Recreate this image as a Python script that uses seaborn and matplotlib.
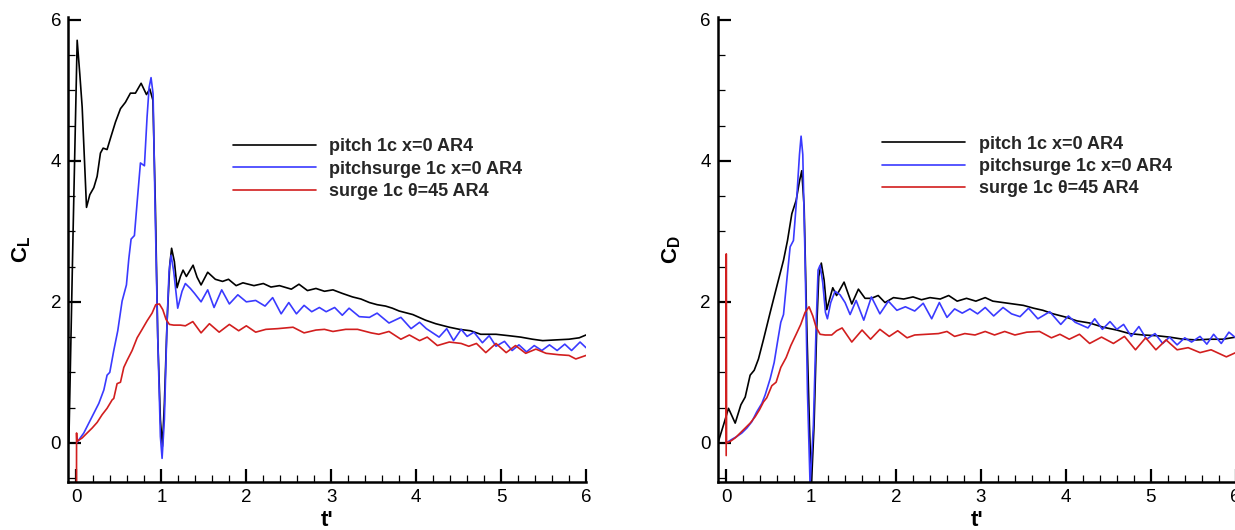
import numpy as np
import pandas as pd
import matplotlib
matplotlib.use("Agg")
import matplotlib.pyplot as plt
from matplotlib.ticker import MultipleLocator
import seaborn as sns

# ---- lift coefficient C_L versus t' ----
t_cl_pitch = [-0.09, -0.04, 0.008, 0.039, 0.067, 0.118, 0.157, 0.204, 0.243, 0.282, 0.314, 0.36, 0.40,
              0.459, 0.518, 0.576, 0.635, 0.694, 0.761, 0.824, 0.863, 0.90, 0.929, 0.957, 0.988, 1.012,
              1.035, 1.067, 1.098, 1.12, 1.153, 1.184, 1.224, 1.255, 1.294, 1.373, 1.42, 1.467, 1.545,
              1.635, 1.72, 1.79, 1.88, 1.96, 2.09, 2.2, 2.29, 2.39, 2.53, 2.62, 2.72, 2.82, 2.92, 3.02,
              3.13, 3.25, 3.35, 3.45, 3.54, 3.64, 3.72, 3.80, 3.96, 4.11, 4.23, 4.39, 4.51, 4.64, 4.76,
              4.94, 5.09, 5.23, 5.37, 5.49, 5.64, 5.80, 5.92, 6.0]
cl_pitch = [0.0, 3.0, 5.71, 5.23, 4.76, 3.34, 3.52, 3.62, 3.78, 4.11, 4.18, 4.16, 4.32,
            4.55, 4.74, 4.83, 4.96, 4.96, 5.10, 4.94, 5.02, 4.86, 3.36, 1.49, 0.33, -0.05,
            0.56, 1.73, 2.52, 2.76, 2.57, 2.20, 2.36, 2.45, 2.36, 2.52, 2.35, 2.24, 2.42,
            2.32, 2.29, 2.32, 2.23, 2.27, 2.23, 2.26, 2.21, 2.23, 2.18, 2.25, 2.16, 2.19, 2.15, 2.17,
            2.12, 2.07, 2.04, 1.99, 1.96, 1.94, 1.91, 1.87, 1.82, 1.74, 1.69, 1.64, 1.61, 1.59, 1.54,
            1.54, 1.52, 1.50, 1.47, 1.45, 1.46, 1.47, 1.49, 1.53]

t_cl_pitchsurge = [0.008, 0.086, 0.145, 0.204, 0.263, 0.322, 0.36, 0.392, 0.439, 0.486, 0.537, 0.588,
                   0.616, 0.643, 0.682, 0.714, 0.753, 0.80, 0.831, 0.855, 0.878, 0.902, 0.925, 0.957,
                   0.988, 1.008, 1.035, 1.067, 1.09, 1.114, 1.145, 1.192, 1.243, 1.282, 1.341, 1.39,
                   1.467, 1.545, 1.62, 1.71, 1.80, 1.90, 2.0, 2.11, 2.22, 2.31, 2.41, 2.50, 2.59, 2.68,
                   2.77, 2.86, 2.94, 3.04, 3.13, 3.21, 3.33, 3.45, 3.54, 3.68, 3.82, 3.94, 4.04, 4.12,
                   4.27, 4.36, 4.44, 4.53, 4.60, 4.68, 4.78, 4.86, 4.94, 5.04, 5.13, 5.21, 5.30, 5.39,
                   5.48, 5.57, 5.66, 5.75, 5.83, 5.93, 6.0]
cl_pitchsurge = [0.01, 0.14, 0.28, 0.42, 0.56, 0.75, 0.96, 1.00, 1.31, 1.59, 2.01, 2.24,
                 2.61, 2.89, 2.94, 3.41, 3.97, 3.93, 4.62, 5.04, 5.18, 4.95, 3.36, 1.49,
                 0.09, -0.22, 0.33, 1.73, 2.43, 2.66, 2.43, 1.91, 2.15, 2.26, 2.19, 2.12,
                 2.00, 2.17, 1.92, 2.17, 1.97, 2.10, 2.00, 2.02, 1.94, 2.06, 1.83, 1.99, 1.83, 1.95,
                 1.86, 1.92, 1.86, 1.92, 1.81, 1.91, 1.79, 1.78, 1.84, 1.70, 1.78, 1.62, 1.71, 1.62,
                 1.50, 1.62, 1.45, 1.61, 1.51, 1.57, 1.42, 1.52, 1.37, 1.44, 1.31, 1.39, 1.29, 1.38,
                 1.31, 1.39, 1.31, 1.40, 1.31, 1.43, 1.35]

t_cl_surge = [0.0, 0.001, 0.004, 0.067, 0.125, 0.184, 0.243, 0.302, 0.36, 0.42, 0.439, 0.478, 0.518,
              0.557, 0.596, 0.655, 0.714, 0.773, 0.831, 0.89, 0.933, 0.976, 1.016, 1.055, 1.094, 1.145,
              1.224, 1.282, 1.37, 1.467, 1.565, 1.68, 1.80, 1.91, 2.0, 2.11, 2.23, 2.37, 2.55, 2.68,
              2.82, 2.92, 3.02, 3.17, 3.31, 3.47, 3.56, 3.68, 3.82, 3.92, 4.04, 4.13, 4.25, 4.39, 4.53,
              4.62, 4.71, 4.82, 4.94, 5.06, 5.17, 5.29, 5.41, 5.53, 5.68, 5.80, 5.88, 6.0]
cl_surge = [-0.6, 0.14, 0.02, 0.07, 0.14, 0.21, 0.29, 0.40, 0.49, 0.61, 0.63, 0.84, 0.86,
            1.07, 1.17, 1.31, 1.49, 1.61, 1.73, 1.84, 1.96, 1.97, 1.89, 1.75, 1.68, 1.67,
            1.67, 1.66, 1.72, 1.56, 1.69, 1.57, 1.68, 1.59, 1.66, 1.57, 1.61, 1.62, 1.64, 1.56,
            1.60, 1.61, 1.58, 1.61, 1.61, 1.56, 1.54, 1.58, 1.47, 1.53, 1.45, 1.50, 1.38, 1.43, 1.41,
            1.37, 1.41, 1.28, 1.41, 1.28, 1.38, 1.27, 1.33, 1.27, 1.25, 1.24, 1.19, 1.24]

# ---- drag coefficient C_D versus t' ----
t_cd_pitch = [-0.097, -0.03, 0.027, 0.106, 0.173, 0.224, 0.282, 0.33, 0.38, 0.44, 0.518, 0.596, 0.675,
              0.722, 0.773, 0.824, 0.863, 0.89, 0.918, 0.949, 0.98, 1.004, 1.035, 1.067, 1.09, 1.12,
              1.153, 1.184, 1.216, 1.255, 1.30, 1.388, 1.479, 1.557, 1.635, 1.71, 1.79, 1.87, 1.97,
              2.09, 2.20, 2.30, 2.40, 2.52, 2.62, 2.72, 2.83, 2.94, 3.05, 3.14, 3.26, 3.38, 3.50, 3.62,
              3.73, 3.85, 4.01, 4.13, 4.28, 4.44, 4.60, 4.75, 4.91, 5.07, 5.22, 5.38, 5.54, 5.69, 5.85, 6.0]
cd_pitch = [0.0, 0.26, 0.49, 0.28, 0.54, 0.65, 0.96, 1.03, 1.19, 1.47, 1.85, 2.22, 2.59,
            2.87, 3.25, 3.44, 3.71, 3.86, 3.34, 1.66, 0.26, -0.6, 0.26, 1.66, 2.36, 2.55,
            2.31, 1.89, 2.03, 2.20, 2.09, 2.28, 1.97, 2.18, 2.05, 2.05, 2.09, 1.99, 2.06,
            2.04, 2.07, 2.03, 2.06, 2.04, 2.09, 2.01, 2.05, 2.01, 2.06, 2.01, 1.99, 1.97, 1.95, 1.91,
            1.88, 1.83, 1.78, 1.73, 1.70, 1.64, 1.60, 1.55, 1.53, 1.52, 1.50, 1.47, 1.46, 1.47, 1.47, 1.50]

t_cd_pitchsurge = [0.0, 0.067, 0.125, 0.184, 0.243, 0.302, 0.36, 0.42, 0.459, 0.518, 0.565, 0.604,
                   0.643, 0.675, 0.714, 0.753, 0.792, 0.831, 0.863, 0.882, 0.902, 0.929, 0.957, 0.988,
                   1.027, 1.059, 1.082, 1.106, 1.137, 1.169, 1.192, 1.231, 1.282, 1.341, 1.40, 1.459,
                   1.53, 1.62, 1.71, 1.81, 1.91, 2.01, 2.11, 2.22, 2.32, 2.42, 2.51, 2.60, 2.69, 2.78,
                   2.87, 2.96, 3.05, 3.15, 3.26, 3.36, 3.46, 3.56, 3.67, 3.81, 3.94, 4.03, 4.11, 4.26,
                   4.34, 4.43, 4.52, 4.60, 4.68, 4.77, 4.86, 4.95, 5.05, 5.14, 5.22, 5.31, 5.40, 5.48,
                   5.58, 5.66, 5.74, 5.83, 5.92, 6.0]
cd_pitchsurge = [0.0, 0.05, 0.09, 0.14, 0.21, 0.30, 0.44, 0.56, 0.68, 0.91, 1.14, 1.43,
                 1.71, 1.82, 2.31, 2.78, 2.87, 3.48, 4.09, 4.35, 4.09, 2.59, 0.72, -0.6,
                 0.26, 1.66, 2.45, 2.52, 2.27, 1.85, 1.76, 1.99, 2.15, 2.10, 1.99, 1.82,
                 2.02, 1.74, 2.07, 1.83, 2.01, 1.88, 1.93, 1.87, 1.98, 1.76, 1.99, 1.78, 1.90, 1.84,
                 1.90, 1.83, 1.92, 1.80, 1.92, 1.83, 1.79, 1.91, 1.76, 1.86, 1.68, 1.80, 1.71, 1.63,
                 1.76, 1.61, 1.72, 1.61, 1.68, 1.51, 1.65, 1.47, 1.55, 1.41, 1.50, 1.39, 1.49, 1.43,
                 1.51, 1.40, 1.54, 1.41, 1.57, 1.49]

t_cd_surge = [0.0, 0.001, 0.004, 0.047, 0.106, 0.165, 0.224, 0.282, 0.341, 0.392, 0.439, 0.478, 0.537,
              0.588, 0.643, 0.706, 0.761, 0.824, 0.878, 0.929, 0.976, 1.02, 1.059, 1.106, 1.165, 1.243,
              1.30, 1.365, 1.479, 1.60, 1.70, 1.81, 1.92, 2.02, 2.13, 2.22, 2.36, 2.50, 2.60, 2.69,
              2.81, 2.93, 3.05, 3.16, 3.28, 3.40, 3.54, 3.69, 3.83, 3.93, 4.04, 4.16, 4.28, 4.42, 4.56,
              4.69, 4.82, 4.94, 5.06, 5.18, 5.31, 5.44, 5.58, 5.71, 5.89, 6.0]
cd_surge = [-0.18, 2.68, 0.0, 0.02, 0.07, 0.14, 0.21, 0.28, 0.37, 0.47, 0.58, 0.64, 0.81,
            0.86, 1.07, 1.21, 1.38, 1.54, 1.68, 1.85, 1.93, 1.80, 1.64, 1.54, 1.53, 1.53,
            1.59, 1.63, 1.43, 1.60, 1.47, 1.61, 1.51, 1.59, 1.49, 1.53, 1.54, 1.55, 1.58, 1.51,
            1.55, 1.53, 1.58, 1.53, 1.58, 1.53, 1.57, 1.58, 1.49, 1.54, 1.47, 1.54, 1.41, 1.50, 1.41,
            1.51, 1.32, 1.49, 1.32, 1.46, 1.32, 1.35, 1.28, 1.32, 1.22, 1.28]

series_labels = ["pitch 1c x=0 AR4", "pitchsurge 1c x=0 AR4", "surge 1c \u03b8=45 AR4"]
series_colors = ["#000000", "#3a3aff", "#d21e1e"]

sns.set_theme(style="white")
plt.rcParams["font.family"] = ["Liberation Sans", "DejaVu Sans"]
plt.rcParams["mathtext.fontset"] = "custom"
plt.rcParams["mathtext.bf"] = "Liberation Sans:bold"
plt.rcParams["mathtext.rm"] = "Liberation Sans"

W, H = 1235, 530
fig = plt.figure(figsize=(W / 100, H / 100), dpi=100)
fig.patch.set_facecolor("white")

panels = [
    (68.0, [(t_cl_pitch, cl_pitch), (t_cl_pitchsurge, cl_pitchsurge), (t_cl_surge, cl_surge)],
     r"$\mathbf{C_L}$", -0.068, 0.739),
    (717.7, [(t_cd_pitch, cd_pitch), (t_cd_pitchsurge, cd_pitchsurge), (t_cd_surge, cd_surge)],
     r"$\mathbf{C_D}$", -0.067, 0.745),
]

for left_px, curves, ylab, ylab_x, leg_y in panels:
    ax = fig.add_axes([left_px / W, 48 / H, 518 / W, 465 / H])
    ax.set_facecolor("white")
    handles = []
    for (tt, vv), lab, col in zip(curves, series_labels, series_colors):
        df = pd.DataFrame({"t": tt, "v": vv})
        sns.lineplot(data=df, x="t", y="v", sort=False, estimator=None, color=col,
                     linewidth=1.2, ax=ax, legend=False)
        handles.append(ax.lines[-1])

    ax.set_xlim(-0.1, 6.0)
    ax.set_ylim(-0.555, 6.04)
    ax.xaxis.set_major_locator(MultipleLocator(1))
    ax.xaxis.set_minor_locator(MultipleLocator(0.2))
    ax.yaxis.set_major_locator(MultipleLocator(2))
    ax.yaxis.set_minor_locator(MultipleLocator(0.5))
    ax.tick_params(which="major", direction="in", length=9.5, width=1.6, colors="black",
                   labelsize=13.5, pad=5)
    ax.tick_params(which="minor", direction="in", length=5, width=0.9, colors="black")
    ax.tick_params(axis="both", which="both", bottom=True, left=True, top=False, right=False)
    for side in ("top", "right"):
        ax.spines[side].set_visible(False)
    for side in ("left", "bottom"):
        ax.spines[side].set_linewidth(1.8)
        ax.spines[side].set_color("black")
    ax.grid(False)

    ax.set_ylabel(ylab, fontsize=16, color="black")
    ax.yaxis.set_label_coords(ylab_x, 0.5)
    ax.set_xlabel("t'", fontsize=16, fontweight="bold", color="black")
    ax.xaxis.set_label_coords(0.5, -0.06)

    ax.legend(handles, series_labels, loc="upper left", bbox_to_anchor=(0.318, leg_y),
              frameon=False, borderpad=0, borderaxespad=0, handlelength=4.6,
              handletextpad=0.75, labelspacing=0.3,
              prop={"family": ["Liberation Sans", "DejaVu Sans"], "weight": "bold", "size": 13})

fig.savefig("out.png", dpi=100, facecolor="white")
